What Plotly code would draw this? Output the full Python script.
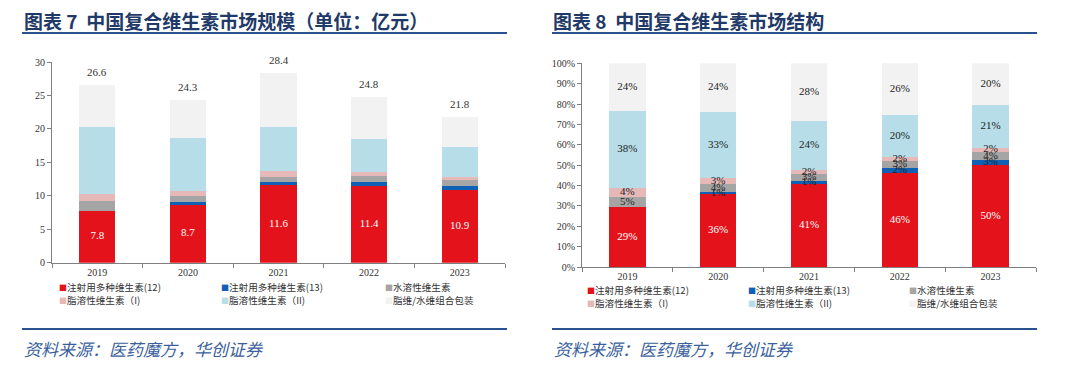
import plotly.graph_objects as go

# ---------------- data ----------------
years = ["2019", "2020", "2021", "2022", "2023"]
series_names = ["注射用多种维生素(12)", "注射用多种维生素(13)", "水溶性维生素",
                "脂溶性维生素（I)", "脂溶性维生素（II)", "脂维/水维组合包装"]
colors = ["#E3121B", "#1060B5", "#A5A5A5", "#E6B9B8", "#B7DEE8", "#F2F2F2"]

# market size (亿元)
size_v12 = [7.8, 8.7, 11.6, 11.4, 10.9]
size_v13 = [0.0, 0.3, 0.4, 0.7, 0.55]
size_water = [1.4, 1.0, 0.8, 0.8, 0.85]
size_fat1 = [1.1, 0.75, 0.85, 0.6, 0.45]
size_fat2 = [10.05, 7.9, 6.65, 5.05, 4.6]
size_combo = [6.25, 5.65, 8.1, 6.25, 4.45]
totals = [26.6, 24.3, 28.4, 24.8, 21.8]

# market structure (%)
share_v12 = [29.3, 35.8, 40.8, 46.0, 50.0]
share_v13 = [0.0, 1.0, 1.4, 2.6, 2.6]
share_water = [5.3, 4.1, 3.4, 3.4, 4.0]
share_fat1 = [4.1, 2.6, 2.2, 2.2, 2.0]
share_fat2 = [37.8, 32.7, 24.0, 20.4, 21.1]
share_combo = [23.5, 23.8, 28.2, 25.4, 20.3]

label_v12 = ["29%", "36%", "41%", "46%", "50%"]
label_v13 = ["", "1%", "1%", "2%", "3%"]
label_water = ["5%", "4%", "3%", "3%", "4%"]
label_fat1 = ["4%", "3%", "2%", "2%", "2%"]
label_fat2 = ["38%", "33%", "24%", "20%", "21%"]
label_combo = ["24%", "24%", "28%", "26%", "20%"]

y_ticks_left = [0, 5, 10, 15, 20, 25, 30]
y_ticks_right = [0, 10, 20, 30, 40, 50, 60, 70, 80, 90, 100]
y_ticktext_right = ["0%", "10%", "20%", "30%", "40%", "50%", "60%", "70%", "80%", "90%", "100%"]

# ---------------- layout constants ----------------
# the page body has an 8px default margin, so the figure is 8px smaller and
# reference pixel positions are shifted by 8px
OFF = 8
W, H = 1080 - OFF, 374 - OFF
def px_x(x):
    return (x - OFF) / W
def px_y(y):
    return 1 - (y - OFF) / H

SERIF = "Liberation Serif, Times New Roman, serif"
CJK = "Noto Sans CJK SC, sans-serif"
NAVY = "#1F3A68"
LINE = "#2A5290"
TXT = "#333333"

fig = go.Figure()

size_series = [size_v12, size_v13, size_water, size_fat1, size_fat2, size_combo]
share_series = [share_v12, share_v13, share_water, share_fat1, share_fat2, share_combo]
share_labels = [label_v12, label_v13, label_water, label_fat1, label_fat2, label_combo]

for i, (name, col) in enumerate(zip(series_names, colors)):
    fig.add_trace(go.Bar(x=years, y=size_series[i], name=name, marker=dict(color=col, line=dict(width=0)),
                         xaxis="x", yaxis="y", showlegend=False, hoverinfo="x+y+name"))
    fig.add_trace(go.Bar(x=years, y=share_series[i], name=name, marker=dict(color=col, line=dict(width=0)),
                         xaxis="x2", yaxis="y2", showlegend=False, hoverinfo="x+y+name"))

# left chart: red segment labels (white) at segment centre
fig.add_trace(go.Scatter(x=years, y=[v / 2 for v in size_v12], mode="text",
                         text=[f"{v:.1f}" for v in size_v12],
                         textfont=dict(family=SERIF, size=11, color="white"),
                         xaxis="x", yaxis="y", showlegend=False, hoverinfo="skip"))

# right chart: labels at segment centres
cum = [0.0] * len(years)
for i in range(6):
    centres = [c + s / 2 for c, s in zip(cum, share_series[i])]
    fig.add_trace(go.Scatter(x=years, y=centres, mode="text", text=share_labels[i],
                             textfont=dict(family=SERIF, size=11, color="white" if i == 0 else "#222222"),
                             xaxis="x2", yaxis="y2", showlegend=False, hoverinfo="skip"))
    cum = [c + s for c, s in zip(cum, share_series[i])]

annotations = []
for idx, t in enumerate(totals):
    annotations.append(dict(x=idx, y=t, xref="x", yref="y", text=f"{t:.1f}", showarrow=False,
                            yanchor="middle", yshift=13,
                            font=dict(family=SERIF, size=11, color=TXT)))

# legends (two rows x three columns for each chart)
legend_cols = {0: [57, 219, 383], 1: [585, 746, 907]}
legend_rows = {0: [287, 300], 1: [290, 302.5]}
for panel in (0, 1):
    for i, (name, col) in enumerate(zip(series_names, colors)):
        r, c = divmod(i, 3)
        annotations.append(dict(
            x=px_x(legend_cols[panel][c]), y=px_y(legend_rows[panel][r]), xref="paper", yref="paper",
            xanchor="left", yanchor="middle", showarrow=False,
            text=f'<span style="color:{col};font-size:8px">■</span>{name}',
            font=dict(family=CJK, size=9.6, color=TXT)))

# titles
annotations.append(dict(x=px_x(22), y=px_y(20.8), xref="paper", yref="paper", xanchor="left", yanchor="middle",
                        text="<b>图表 7  中国复合维生素市场规模（单位：亿元）</b>", showarrow=False,
                        font=dict(family=CJK, size=19, color=NAVY)))
annotations.append(dict(x=px_x(551), y=px_y(20.8), xref="paper", yref="paper", xanchor="left", yanchor="middle",
                        text="<b>图表 8  中国复合维生素市场结构</b>", showarrow=False,
                        font=dict(family=CJK, size=19, color=NAVY)))
# sources
for x0 in (22, 552):
    annotations.append(dict(x=px_x(x0), y=px_y(348), xref="paper", yref="paper", xanchor="left", yanchor="middle",
                            text="<i>资料来源：医药魔方，华创证券</i>", showarrow=False,
                            font=dict(family=CJK, size=17, color="#3B5F9C")))

shapes = []
for (x0, x1) in ((22, 507), (552, 1037)):
    for yy in (33, 329):
        shapes.append(dict(type="line", xref="paper", yref="paper",
                           x0=px_x(x0), x1=px_x(x1), y0=px_y(yy), y1=px_y(yy),
                           line=dict(color=LINE, width=2)))

axis_common = dict(showgrid=False, zeroline=False, showline=True, linecolor="#7F7F7F", linewidth=1,
                   ticks="outside", ticklen=4, tickcolor="#7F7F7F",
                   tickfont=dict(family=SERIF, size=10, color=TXT), fixedrange=True)

fig.update_layout(
    width=W, height=H, margin=dict(l=0, r=0, t=0, b=0, autoexpand=False),
    paper_bgcolor="white", plot_bgcolor="white",
    barmode="stack", bargap=0.6, showlegend=False,
    font=dict(family=CJK, color=TXT),
    xaxis=dict(domain=[px_x(52), px_x(505)], anchor="y", type="category", tickson="boundaries", **axis_common),
    yaxis=dict(domain=[px_y(262.7), px_y(62)], anchor="x", range=[0, 30], tickvals=y_ticks_left, **axis_common),
    xaxis2=dict(domain=[px_x(582), px_x(1036)], anchor="y2", type="category", tickson="boundaries", **axis_common),
    yaxis2=dict(domain=[px_y(267), px_y(63.3)], anchor="x2", range=[0, 100], tickvals=y_ticks_right,
                ticktext=y_ticktext_right, **axis_common),
    annotations=annotations, shapes=shapes,
)

fig.write_html("out.html")
